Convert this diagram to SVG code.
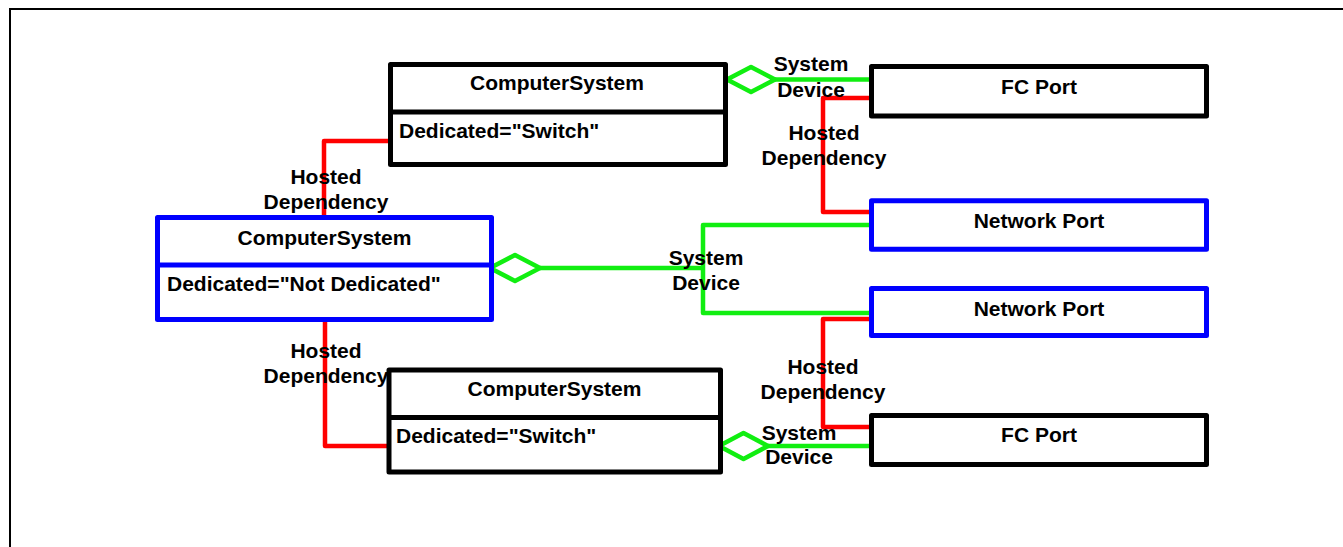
<svg xmlns="http://www.w3.org/2000/svg" width="1343" height="547" viewBox="0 0 1343 547">
<style>
.box{fill:#ffffff;stroke-width:5;stroke-linejoin:round}
.blk{stroke:#000000}
.blu{stroke:#0000ff}
.div{stroke-width:5}
.t{font-family:"Liberation Sans",Arial,sans-serif;font-weight:bold;font-size:21px;fill:#000000}
.c{text-anchor:middle}
.red{fill:none;stroke:#ff0000;stroke-width:4.5;stroke-linejoin:round}
.grn{fill:none;stroke:#11ee11;stroke-width:4.5;stroke-linejoin:round}
.dia{fill:#ffffff;stroke:#11ee11;stroke-width:4.5;stroke-linejoin:round}
</style>
<rect width="1343" height="547" fill="#ffffff"/>
<path d="M10,547 V9 H1343" fill="none" stroke="#000000" stroke-width="2"/>

<g id="connectors">
  <path class="red" d="M324,217 V141 H390"/>
  <path class="red" d="M325,320 V446 H389"/>
  <path class="red" d="M871,98 H823 V212 H871"/>
  <path class="red" d="M871,319 H823 V427 H871"/>
  <path class="grn" d="M775,79.5 H872"/>
  <polygon class="dia" points="727,79.5 751,67 775,79.5 751,92"/>
  <path class="grn" d="M540,268 H703 M872,225 H703 V313 H872"/>
  <polygon class="dia" points="490,268 515,255 540,268 515,281"/>
  <path class="grn" d="M768,446 H873"/>
  <polygon class="dia" points="719,446 743.5,433 768,446 743.5,459"/>
  <g class="t c">
    <text x="811" y="71">System</text>
    <text x="811" y="97">Device</text>
    <text x="824" y="140">Hosted</text>
    <text x="824" y="165">Dependency</text>
    <text x="326" y="184">Hosted</text>
    <text x="326" y="209">Dependency</text>
    <text x="706" y="265">System</text>
    <text x="706" y="290">Device</text>
    <text x="326" y="358">Hosted</text>
    <text x="326" y="383">Dependency</text>
    <text x="823" y="374">Hosted</text>
    <text x="823" y="399">Dependency</text>
    <text x="799" y="440">System</text>
    <text x="799" y="464">Device</text>
  </g>
</g>

<g id="cs-top">
  <rect class="box blk" x="390.5" y="64.5" width="335" height="100"/>
  <line class="blk div" x1="390.5" y1="112" x2="725.5" y2="112"/>
  <text class="t c" x="557" y="90">ComputerSystem</text>
  <text class="t" x="399" y="138">Dedicated="Switch"</text>
</g>

<g id="cs-main">
  <rect class="box blu" x="157.5" y="217.5" width="334" height="102"/>
  <line class="blu div" x1="157.5" y1="265" x2="491.5" y2="265"/>
  <text class="t c" x="324.5" y="245">ComputerSystem</text>
  <text class="t" x="167" y="291">Dedicated="Not Dedicated"</text>
</g>

<g id="cs-bottom">
  <rect class="box blk" x="389" y="370" width="331.5" height="102"/>
  <line class="blk div" x1="389" y1="417.5" x2="720.5" y2="417.5"/>
  <text class="t c" x="554.5" y="396">ComputerSystem</text>
  <text class="t" x="396" y="443">Dedicated="Switch"</text>
</g>

<g id="fc-port-top">
  <rect class="box blk" x="871.5" y="66.5" width="335" height="49.5"/>
  <text class="t c" x="1039" y="94">FC Port</text>
</g>

<g id="network-port-1">
  <rect class="box blu" x="871.5" y="200.8" width="335" height="48.4"/>
  <text class="t c" x="1039" y="228">Network Port</text>
</g>

<g id="network-port-2">
  <rect class="box blu" x="871.5" y="288.5" width="335" height="47"/>
  <text class="t c" x="1039" y="316">Network Port</text>
</g>

<g id="fc-port-bottom">
  <rect class="box blk" x="871.5" y="415.5" width="335" height="49"/>
  <text class="t c" x="1039" y="442">FC Port</text>
</g>
</svg>
